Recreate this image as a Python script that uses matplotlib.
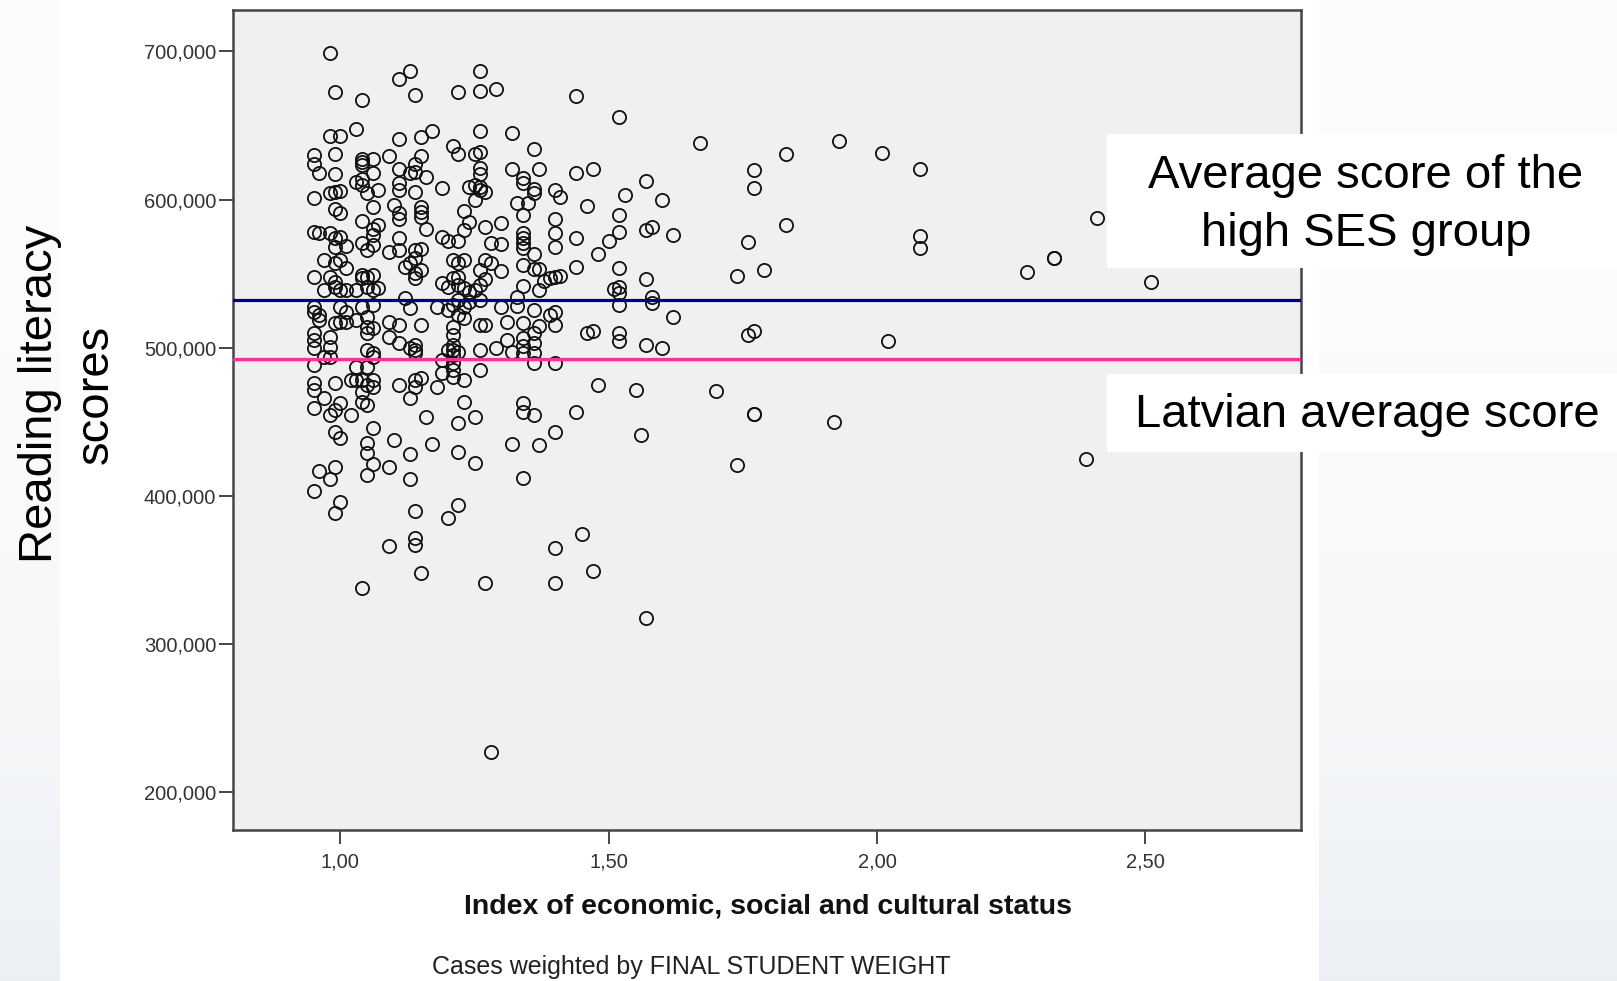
import numpy as np
import matplotlib
matplotlib.use("Agg")  # headless
import matplotlib.pyplot as plt
from matplotlib.patches import Rectangle
from matplotlib.ticker import FixedLocator, FuncFormatter

plt.rcParams["font.family"] = ["Liberation Sans", "DejaVu Sans"]

# ESCS index (rounded to 2 decimals) and the reading scores of the schools at each value
escs_levels = [
    0.95, 0.96, 0.97, 0.98, 0.99, 1.00, 1.01, 1.02, 1.03, 1.04,
    1.05, 1.06, 1.07, 1.09, 1.10, 1.11, 1.12, 1.13, 1.14, 1.15,
    1.16, 1.17, 1.18, 1.19, 1.20, 1.21, 1.22, 1.23, 1.24, 1.25,
    1.26, 1.27, 1.28, 1.29, 1.30, 1.31, 1.32, 1.33, 1.34, 1.35,
    1.36, 1.37, 1.38, 1.39, 1.40, 1.41, 1.44, 1.45, 1.46, 1.47,
    1.48, 1.50, 1.51, 1.52, 1.53, 1.55, 1.56, 1.57, 1.58, 1.60,
    1.62, 1.67, 1.70, 1.74, 1.76, 1.77, 1.79, 1.83, 1.92, 1.93,
    2.01, 2.02, 2.08, 2.28, 2.33, 2.39, 2.41, 2.51,
]
reading_by_level = [
    [629.9, 624.0, 600.9, 578.3, 548.0, 527.7, 524.3, 509.7, 505.2, 499.6, 488.3, 475.9, 471.4, 459.1, 403.5],
    [618.2, 577.2, 522.1, 518.7, 417.0],
    [559.2, 539.0, 494.0, 465.8],
    [698.8, 642.9, 604.7, 577.2, 548.0, 507.5, 500.7, 494.0, 454.6, 411.1],
    [672.4, 630.8, 617.3, 605.4, 593.4, 573.8, 568.2, 557.0, 544.6, 541.2, 516.5, 475.9, 458.0, 443.3, 419.7, 388.6],
    [642.9, 606.0, 591.2, 574.5, 559.2, 539.0, 527.7, 517.6, 462.4, 438.8, 396.0],
    [568.7, 553.6, 539.0, 524.3, 517.6],
    [478.2, 454.6],
    [647.4, 612.1, 539.0, 518.7, 487.2, 478.2],
    [667.3, 627.2, 625.4, 623.6, 613.7, 609.6, 585.8, 570.5, 549.1, 546.8, 527.7, 478.2, 470.3, 463.6, 337.5],
    [604.2, 566.0, 548.0, 541.2, 521.0, 514.2, 509.7, 498.4, 487.2, 474.8, 461.3, 435.4, 428.7, 414.0],
    [627.2, 617.7, 594.8, 579.9, 576.1, 569.3, 549.1, 539.0, 528.8, 513.1, 496.2, 494.0, 478.2, 473.7, 445.6, 421.5],
    [606.5, 582.8, 540.1],
    [629.4, 564.8, 517.6, 507.5, 419.7, 366.1],
    [596.4, 437.7],
    [681.2, 640.7, 620.9, 611.0, 606.5, 590.7, 586.7, 573.8, 566.0, 515.3, 503.0, 474.8],
    [554.7, 533.3],
    [687.1, 617.7, 557.0, 526.6, 499.6, 465.8, 428.2, 411.1],
    [670.4, 624.0, 618.9, 604.9, 566.0, 560.3, 550.2, 546.8, 501.8, 498.4, 496.2, 478.2, 473.7, 390.0, 371.3, 366.8],
    [642.5, 629.4, 595.2, 591.9, 588.5, 566.4, 552.5, 515.3, 479.3, 348.1],
    [615.5, 579.9, 453.0],
    [646.1, 435.0],
    [527.7, 473.7],
    [607.6, 575.0, 543.5, 491.7, 482.7],
    [572.3, 541.2, 525.5, 498.4, 385.2],
    [636.4, 559.2, 546.8, 528.8, 514.2, 508.6, 501.8, 498.4, 495.1, 489.4, 484.9, 480.4],
    [672.7, 630.8, 572.3, 557.0, 548.0, 542.3, 532.2, 522.1, 497.3, 448.9, 429.8, 393.8],
    [592.5, 579.5, 559.2, 540.1, 527.7, 519.8, 478.2, 463.6],
    [608.3, 585.1, 537.8, 531.1],
    [630.8, 609.9, 599.7, 539.0, 453.4, 421.9],
    [687.1, 673.3, 646.5, 632.4, 621.1, 617.3, 608.7, 606.5, 552.5, 542.3, 532.2, 515.3, 498.4, 484.9],
    [605.4, 581.7, 559.2, 546.2, 515.3, 340.9],
    [570.5, 557.0, 226.8],
    [674.5, 499.6],
    [584.4, 570.0, 552.0, 527.3],
    [517.6, 505.2],
    [645.2, 620.4, 497.3, 435.0],
    [597.9, 534.5, 528.2],
    [614.4, 611.4, 589.6, 577.7, 574.3, 570.9, 567.1, 555.6, 541.7, 516.5, 506.3, 501.1, 496.2, 462.4, 456.8, 412.2],
    [597.5],
    [634.1, 606.9, 604.2, 563.3, 552.9, 525.5, 509.7, 503.0, 496.2, 489.4, 454.6],
    [620.4, 552.9, 539.0, 514.7, 434.3],
    [545.3],
    [546.8, 522.1],
    [606.5, 586.7, 577.2, 568.2, 547.5, 524.3, 515.5, 489.4, 442.9, 364.8, 341.4],
    [602.0, 548.4],
    [669.7, 617.7, 573.8, 554.7, 456.4],
    [374.2],
    [595.7, 509.7],
    [620.4, 511.5, 349.5],
    [563.0, 474.8],
    [572.3],
    [539.4],
    [655.5, 589.6, 578.3, 553.6, 541.2, 536.7, 528.8, 510.2, 504.7],
    [603.1],
    [471.4],
    [441.1],
    [612.8, 579.5, 546.2, 501.8, 317.3],
    [581.7, 534.5, 530.0],
    [599.7, 499.6],
    [576.1, 520.5],
    [638.0],
    [470.8],
    [548.4, 420.8],
    [571.2, 508.6],
    [620.0, 607.6, 511.5, 455.0, 455.0],
    [552.5],
    [630.8, 582.8],
    [450.0],
    [639.8],
    [631.3],
    [504.7],
    [620.7, 575.6, 567.1],
    [550.9],
    [560.4, 560.4],
    [424.6],
    [587.4],
    [544.6],
]

high_ses_mean = 532.3
latvia_mean = 492.2

y_ticks = [200, 300, 400, 500, 600, 700]
x_ticks = [1.0, 1.5, 2.0, 2.5]

escs = np.concatenate([[lvl] * len(v) for lvl, v in zip(escs_levels, reading_by_level)])
reading = np.concatenate(reading_by_level)

W, H = 1617, 981
fig = plt.figure(figsize=(W / 100, H / 100), dpi=100, facecolor="white")

# slide background: pale strips either side of the white panel
bg = np.ones((H, W, 3))
t = np.linspace(0, 1, H)[:, None] ** 2.5
top = np.array([0.988, 0.988, 0.988])
bottom = np.array([0.925, 0.940, 0.958])
grad = top + (bottom - top) * t
bg[:, :60] = grad[:, None, :]
bg[:, 1319:] = grad[:, None, :]
fig.figimage(bg, xo=0, yo=0, zorder=-5)

ax = fig.add_axes([233 / W, 1 - 830 / H, (1301 - 233) / W, (830 - 10) / H])
ax.set_facecolor("#f0f0f0")
ax.plot(escs, reading, "o", ms=9.5, mfc="none", mec="#111111", mew=1.3, zorder=3)
ax.axhline(high_ses_mean, color="#00008f", lw=2.3, zorder=4)
ax.axhline(latvia_mean, color="#ff2e93", lw=2.3, zorder=4)

ax.set_xlim(0.8, 2.79)
ax.set_ylim(174.3, 728.0)
ax.xaxis.set_major_locator(FixedLocator(x_ticks))
ax.yaxis.set_major_locator(FixedLocator(y_ticks))
ax.xaxis.set_major_formatter(FuncFormatter(lambda v, _: f"{v:.2f}".replace(".", ",")))
ax.yaxis.set_major_formatter(FuncFormatter(lambda v, _: f"{v:,.3f}".replace(".", ",")))
for s in ax.spines.values():
    s.set_color("#454545")
    s.set_linewidth(1.8)
ax.tick_params(direction="out", length=10, width=1.4, color="#454545",
               labelsize=14.5, labelcolor="#333333")
ax.tick_params(axis="y", pad=2)
ax.tick_params(axis="x", pad=6)

fig.text(768 / W, 1 - 907 / H, "Index of economic, social and cultural status",
         ha="center", va="center", fontsize=20.5, fontweight="bold", color="#111111")
fig.text(691 / W, 1 - 967 / H, "Cases weighted by FINAL STUDENT WEIGHT",
         ha="center", va="center", fontsize=18, color="#222222")

fig.text(68 / W, 1 - 394 / H, "Reading literacy\nscores", rotation=90,
         ha="center", va="center", multialignment="center", fontsize=34,
         linespacing=1.35, color="black")

# callout boxes for the two reference lines
fig.add_artist(Rectangle((1107 / W, 1 - 268 / H), (W - 1107) / W, 134 / H,
                         transform=fig.transFigure, fc="white", ec="none", zorder=10))
fig.text(1366 / W, 1 - 205 / H, "Average score of the\nhigh SES group",
         ha="center", va="center", multialignment="center", fontsize=34,
         linespacing=1.4, zorder=11)
fig.add_artist(Rectangle((1107 / W, 1 - 452 / H), (W - 1107) / W, 78 / H,
                         transform=fig.transFigure, fc="white", ec="none", zorder=10))
fig.text(1367 / W, 1 - 415 / H, "Latvian average score",
         ha="center", va="center", fontsize=34, zorder=11)

fig.savefig("out.png", dpi=100)
